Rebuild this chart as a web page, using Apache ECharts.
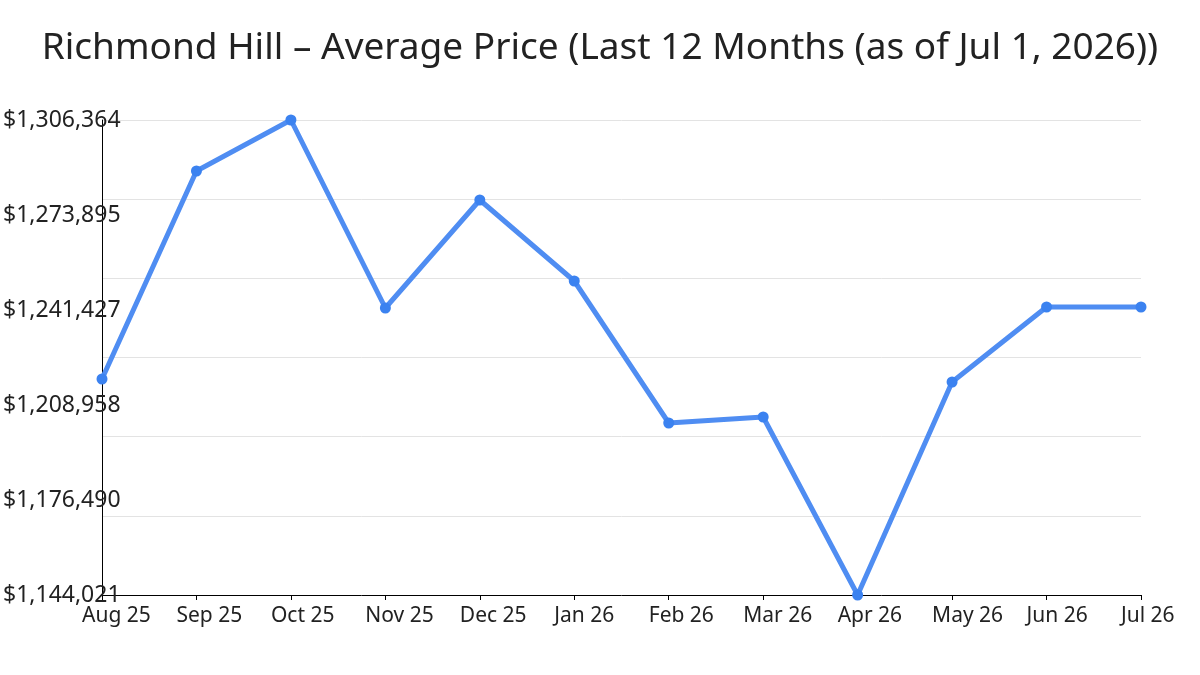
<!DOCTYPE html>
<html>
<head>
<meta charset="utf-8">
<script src="https://cdn.jsdelivr.net/npm/echarts@6/dist/echarts.min.js"></script>
<style>
  html, body { margin: 0; padding: 0; background: #ffffff; }
  #chart { width: 1200px; height: 675px; }
</style>
</head>
<body>
<div id="chart"></div>
<script>
const titleText = 'Richmond Hill – Average Price (Last 12 Months (as of Jul 1, 2026))';
const categories = ['Aug 25', 'Sep 25', 'Oct 25', 'Nov 25', 'Dec 25', 'Jan 26', 'Feb 26', 'Mar 26', 'Apr 26', 'May 26', 'Jun 26', 'Jul 26'];
const avgPrice = [1217844, 1288933, 1306364, 1242110, 1279021, 1251338, 1202806, 1204857, 1144021, 1216819, 1242452, 1242452];
const yTickLabels = ['$1,144,021', '$1,176,490', '$1,208,958', '$1,241,427', '$1,273,895', '$1,306,364'];
const yMin = 1144021;
const yMax = 1306364;

const FONT = "'Noto Sans', 'Open Sans', sans-serif";
const chart = echarts.init(document.getElementById('chart'), null, { renderer: 'canvas' });

const labelStep = (yMax - yMin) / (yTickLabels.length - 1);
const gridStep = (yMax - yMin) / 6;

chart.setOption({
  animation: false,
  backgroundColor: '#ffffff',
  title: {
    text: titleText,
    left: 'center',
    top: 25,
    textStyle: { fontFamily: FONT, fontSize: 37, fontWeight: 'normal', color: '#222222' }
  },
  grid: { left: 100, right: 59, top: 120, bottom: 80, containLabel: false },
  xAxis: {
    type: 'category',
    data: categories,
    boundaryGap: false,
    axisLine: { show: true, lineStyle: { color: '#000000', width: 1 } },
    axisTick: { show: true, length: 5, lineStyle: { color: '#000000', width: 1 }, interval: 0 },
    axisLabel: {
      interval: 0,
      align: 'left',
      padding: [0, 0, 0, -20],
      margin: 11,
      fontFamily: FONT,
      fontSize: 21,
      color: '#222222'
    },
    splitLine: { show: false }
  },
  yAxis: [
    {
      type: 'value',
      min: yMin,
      max: yMax,
      interval: labelStep,
      position: 'left',
      axisLine: { show: true, lineStyle: { color: '#000000', width: 1 } },
      axisTick: { show: false },
      axisLabel: {
        align: 'left',
        margin: 99,
        fontFamily: FONT,
        fontSize: 23,
        color: '#222222',
        formatter: function (v) {
          const idx = Math.round((v - yMin) / labelStep);
          return yTickLabels[idx] !== undefined ? yTickLabels[idx] : '';
        }
      },
      splitLine: { show: false }
    },
    {
      type: 'value',
      min: yMin,
      max: yMax,
      interval: gridStep,
      position: 'left',
      axisLine: { show: false },
      axisTick: { show: false },
      axisLabel: { show: false },
      splitLine: { show: true, lineStyle: { color: '#e3e3e3', width: 1 } }
    }
  ],
  series: [
    {
      type: 'line',
      data: avgPrice,
      yAxisIndex: 0,
      symbol: 'circle',
      symbolSize: 11,
      showSymbol: true,
      lineStyle: { color: '#4f8df2', width: 5 },
      itemStyle: { color: '#3b82f0' },
      z: 5
    }
  ]
});
</script>
</body>
</html>
